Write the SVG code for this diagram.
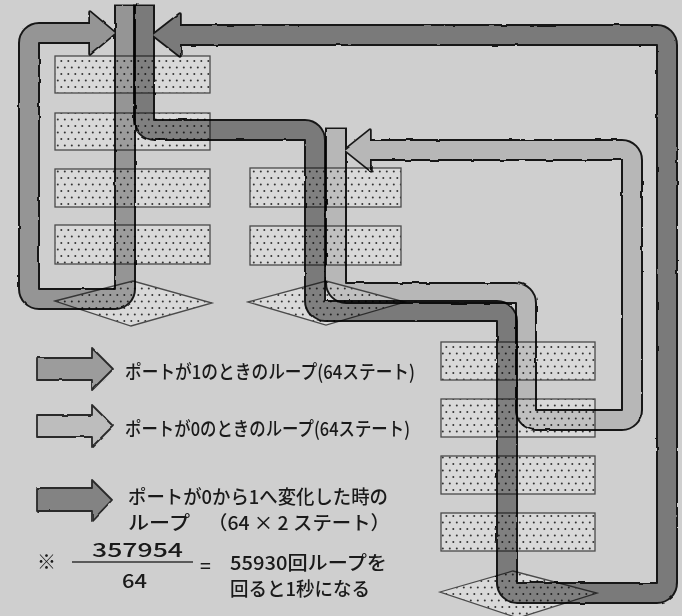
<svg xmlns="http://www.w3.org/2000/svg" width="682" height="616" viewBox="0 0 682 616">
<defs>
<pattern id="dots" width="7" height="13" patternUnits="userSpaceOnUse">
<rect width="7" height="13" fill="#d9d9d9"/>
<circle cx="1.8" cy="2.5" r="1" fill="#333"/>
<circle cx="5.3" cy="9" r="1" fill="#333"/>
</pattern>
<filter id="wavy" filterUnits="userSpaceOnUse" x="0" y="0" width="682" height="616">
<feTurbulence type="fractalNoise" baseFrequency="0.09" numOctaves="1" seed="3" result="n"/>
<feDisplacementMap in="SourceGraphic" in2="n" scale="2.6" xChannelSelector="R" yChannelSelector="G"/>
</filter>
<style>
.blk{fill:url(#dots);stroke:#4a4a4a;stroke-width:1.3}
.band{mix-blend-mode:multiply;filter:url(#wavy)}
.ol{fill:none;stroke:#1e1e1e;stroke-width:22;stroke-linejoin:round}
.olh{stroke:#1e1e1e;stroke-width:3.5;stroke-linejoin:round}
.fl{fill:none;stroke-width:18;stroke-linejoin:round}
.med .fl{stroke:#b8b8b8}.med .hd{fill:#b8b8b8}.med .olh{fill:#b8b8b8}
.lig .fl{stroke:#e2e2e2}.lig .hd{fill:#e2e2e2}.lig .olh{fill:#e2e2e2}
.drk .fl{stroke:#969696}.drk .hd{fill:#969696}.drk .olh{fill:#969696}
.leg{stroke:#2a2a2a;stroke-width:1.8;stroke-linejoin:round;filter:url(#wavy)}
.t{font-family:"Noto Sans CJK JP","Noto Sans",sans-serif;fill:#1a1a1a;font-size:19px;font-weight:500}
</style>
</defs>
<rect width="682" height="616" fill="#cfcfcf"/>

<g id="column1">
<g id="c1r1"><rect class="blk" x="55" y="56" width="155" height="37"/></g>
<g id="c1r2"><rect class="blk" x="55" y="113" width="155" height="37"/></g>
<g id="c1r3"><rect class="blk" x="55" y="169" width="155" height="38"/></g>
<g id="c1r4"><rect class="blk" x="55" y="225" width="155" height="39"/></g>
<g id="c1d"><polygon class="blk" points="55,301 133,281 212,303 131,326"/></g>
</g>
<g id="column2">
<g id="c2r1"><rect class="blk" x="250" y="168" width="151" height="39"/></g>
<g id="c2r2"><rect class="blk" x="250" y="226" width="151" height="39"/></g>
<g id="c2d"><polygon class="blk" points="248,302 326,281 405,302 326,325"/></g>
</g>
<g id="column3">
<g id="c3r1"><rect class="blk" x="441" y="342" width="154" height="38"/></g>
<g id="c3r2"><rect class="blk" x="441" y="399" width="154" height="38"/></g>
<g id="c3r3"><rect class="blk" x="441" y="456" width="154" height="38"/></g>
<g id="c3r4"><rect class="blk" x="441" y="513" width="154" height="38"/></g>
<g id="c3d"><polygon class="blk" points="440,592 513,571 597,593 518,618"/></g>
</g>

<g id="connectors">
<g id="loop-port1" class="band med">
<path class="ol" d="M125,4.5 V289 A10,10 0 0 1 115,299 H39 A10,10 0 0 1 29,289 V43 A10,10 0 0 1 39,33 H93"/>
<polygon class="olh" points="90,12 115,33 90,54"/>
<path class="fl" d="M125,6 V289 A10,10 0 0 1 115,299 H39 A10,10 0 0 1 29,289 V43 A10,10 0 0 1 39,33 H93"/>
<polygon class="hd" points="90,12 115,33 90,54"/>
</g>
<g id="loop-port0" class="band lig">
<path class="ol" d="M336,127.5 V283 A10,10 0 0 0 346,293 H516 A10,10 0 0 1 526,303 V410 A10,10 0 0 0 536,420 H622 A10,10 0 0 0 632,410 V160 A10,10 0 0 0 622,150 H367"/>
<polygon class="olh" points="370,130 345,150 370,170"/>
<path class="fl" d="M336,129 V283 A10,10 0 0 0 346,293 H516 A10,10 0 0 1 526,303 V410 A10,10 0 0 0 536,420 H622 A10,10 0 0 0 632,410 V160 A10,10 0 0 0 622,150 H367"/>
<polygon class="hd" points="370,130 345,150 370,170"/>
</g>
<g id="loop-transition" class="band drk">
<path class="ol" d="M144,4.5 V120 A10,10 0 0 0 154,130 H305 A10,10 0 0 1 315,140 V301 A10,10 0 0 0 325,311 H497 A10,10 0 0 1 507,321 V583 A10,10 0 0 0 517,593 H657 A10,10 0 0 0 667,583 V45 A10,10 0 0 0 657,35 H177"/>
<polygon class="olh" points="180,14 153,35 180,56"/>
<path class="fl" d="M144,6 V120 A10,10 0 0 0 154,130 H305 A10,10 0 0 1 315,140 V301 A10,10 0 0 0 325,311 H497 A10,10 0 0 1 507,321 V583 A10,10 0 0 0 517,593 H657 A10,10 0 0 0 667,583 V45 A10,10 0 0 0 657,35 H177"/>
<polygon class="hd" points="180,14 153,35 180,56"/>
</g>
</g>

<g id="legend1">
<polygon class="leg" fill="#9c9c9c" points="37,358 92,358 92,348 113,369 92,390 92,380 37,380"/>
<text class="t" x="125" y="379" textLength="290" lengthAdjust="spacingAndGlyphs">ポートが1のときのループ(64ステート)</text>
</g>
<g id="legend2">
<polygon class="leg" fill="#bdbdbd" points="37,415 92,415 92,405 113,426 92,447 92,437 37,437"/>
<text class="t" x="125" y="436" textLength="285" lengthAdjust="spacingAndGlyphs">ポートが0のときのループ(64ステート)</text>
</g>
<g id="legend3">
<polygon class="leg" fill="#838383" points="37,488 92,488 92,480 112,500 92,521 92,511 37,511"/>
<text class="t" x="128" y="504" font-size="17" textLength="260" lengthAdjust="spacingAndGlyphs">ポートが0から1へ変化した時の</text>
<text class="t" x="128" y="530" font-size="15" textLength="62" lengthAdjust="spacingAndGlyphs">ループ</text>
<text class="t" x="208" y="530" font-size="15" textLength="182" lengthAdjust="spacingAndGlyphs">（64 × 2 ステート）</text>
</g>
<g id="note">
<text class="t" x="37" y="569" font-size="21">※</text>
<text class="t" x="92" y="557" font-size="20" textLength="91" lengthAdjust="spacingAndGlyphs">357954</text>
<line x1="72" y1="562" x2="193" y2="562" stroke="#333" stroke-width="1.6"/>
<text class="t" x="122" y="588" font-size="20" textLength="25" lengthAdjust="spacingAndGlyphs">64</text>
<text class="t" x="200" y="573" font-size="20">=</text>
<text class="t" x="230" y="570" font-size="19" textLength="157" lengthAdjust="spacingAndGlyphs">55930回ループを</text>
<text class="t" x="230" y="596" font-size="19" textLength="140" lengthAdjust="spacingAndGlyphs">回ると1秒になる</text>
</g>
</svg>
